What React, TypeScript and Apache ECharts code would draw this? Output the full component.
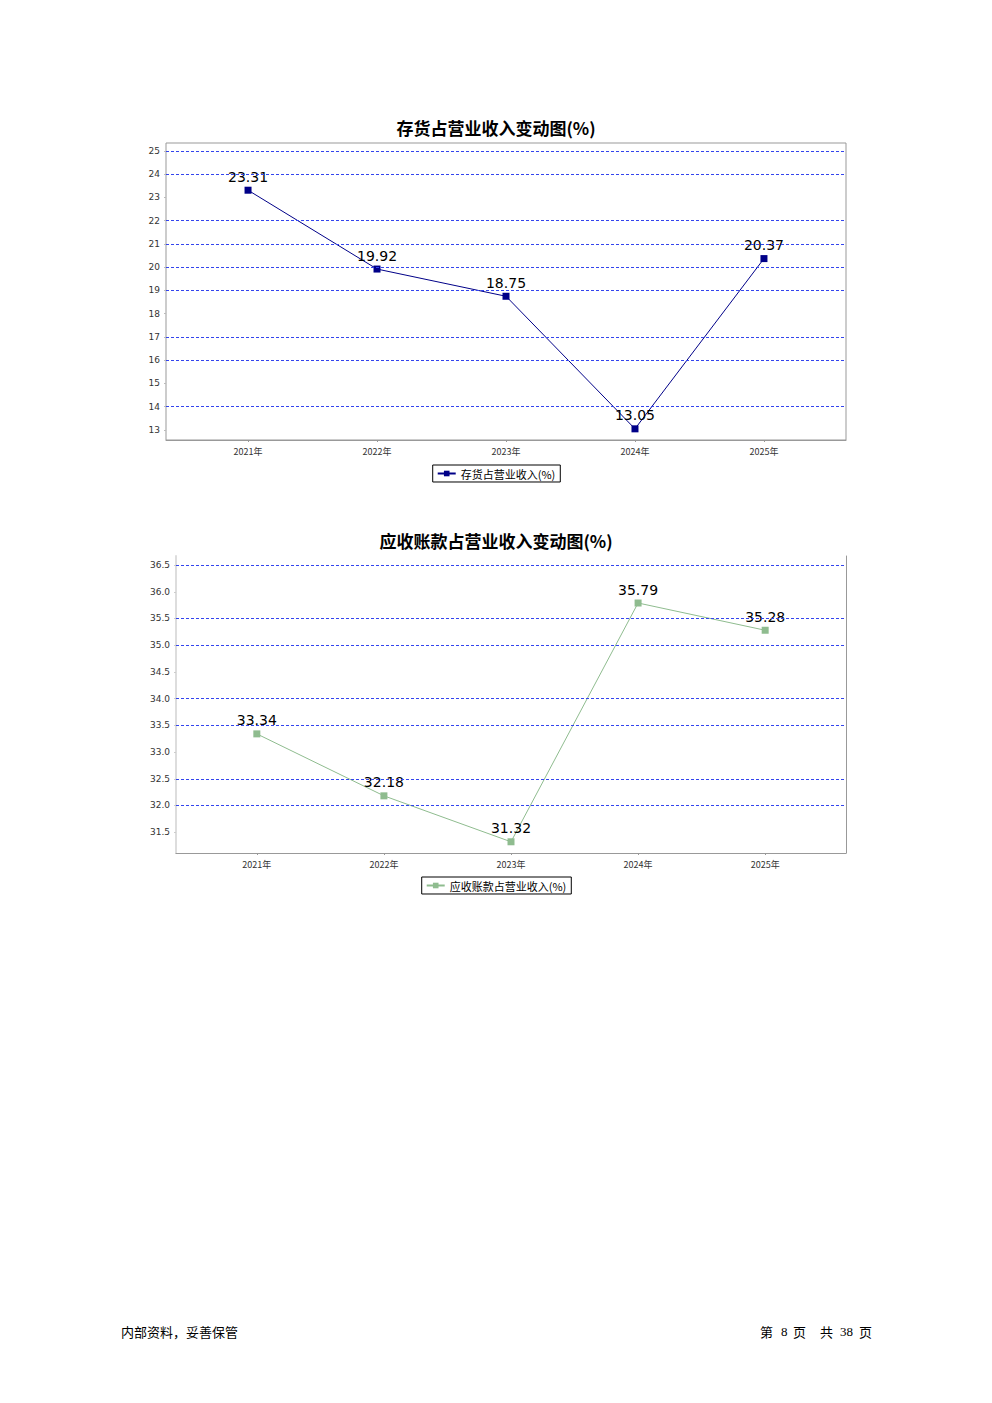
import React, { useEffect, useRef } from "react";
import * as echarts from "echarts";

const categories = ["2021年", "2022年", "2023年", "2024年", "2025年"];
const inventoryName = "存货占营业收入(%)";
const inventoryValues = [23.31, 19.92, 18.75, 13.05, 20.37];
const inventoryTicks = [13, 14, 15, 16, 17, 18, 19, 20, 21, 22, 23, 24, 25];
const inventoryGridLines = [25, 24, 22, 21, 20, 19, 17, 16, 14];
const receivableName = "应收账款占营业收入(%)";
const receivableValues = [33.34, 32.18, 31.32, 35.79, 35.28];
const receivableTicks = [31.5, 32.0, 32.5, 33.0, 33.5, 34.0, 34.5, 35.0, 35.5, 36.0, 36.5];
const receivableGridLines = [36.5, 35.5, 35.0, 34.0, 33.5, 32.5, 32.0];
const catIdx = [0, 1, 2, 3, 4];

const CJK = '"Noto Sans CJK SC", "DejaVu Sans", sans-serif';
const SERIF = '"Liberation Serif", "DejaVu Serif", serif';

export default function App() {
  const ref = useRef<HTMLDivElement>(null);
  useEffect(() => {
    document.body.style.margin = "0";
    const chart = echarts.init(ref.current!, null, { renderer: "svg" });
    const xAxisBase = (gridIndex: number) => ({
      type: "value",
      gridIndex,
      min: -0.636,
      max: 4.636,
      axisLine: { show: true, onZero: false, lineStyle: { color: "#999", width: 1 } },
      axisTick: { show: true, customValues: catIdx, length: 2, lineStyle: { color: "#999" } },
      axisLabel: {
        customValues: catIdx,
        formatter: (v: number) => categories[Math.round(v)] ?? "",
        fontSize: 9,
        color: "#333",
        fontFamily: CJK,
        margin: 7,
      },
      splitLine: { show: false },
    });
    const gl = (vals: number[]) => ({
      silent: true,
      symbol: ["none", "none"],
      label: { show: false },
      lineStyle: { color: "#3344ee", type: [3, 2], width: 1 },
      data: vals.map((v) => ({ yAxis: v })),
    });
    const legendBase = {
      left: "center",
      borderColor: "#000",
      borderWidth: 1,
      padding: [3, 5, 3, 4],
      itemWidth: 18,
      itemHeight: 7,
      itemGap: 4,
      textStyle: { fontSize: 11, color: "#000", fontFamily: CJK },
    };
    const footerStyle = (text: string, font: string) => ({ text, font, fill: "#000" });
    chart.setOption({
      animation: false,
      backgroundColor: "#fff",
      title: [
        {
          text: "存货占营业收入变动图(%)",
          left: "center",
          top: 114,
          textStyle: { fontSize: 17, fontWeight: "bold", color: "#000", fontFamily: CJK },
        },
        {
          text: "应收账款占营业收入变动图(%)",
          left: "center",
          top: 527,
          textStyle: { fontSize: 17, fontWeight: "bold", color: "#000", fontFamily: CJK },
        },
      ],
      legend: [
        { ...legendBase, data: [inventoryName], top: 465 },
        { ...legendBase, data: [receivableName], top: 877 },
      ],
      grid: [
        { left: 166, top: 143, width: 680, height: 297, show: true, borderColor: "#999", borderWidth: 1 },
        { left: 176, top: 556, width: 670, height: 297, show: false },
      ],
      xAxis: [xAxisBase(0), xAxisBase(1)],
      yAxis: [
        {
          type: "value",
          gridIndex: 0,
          min: 12.57,
          max: 25.34,
          axisLine: { show: false, onZero: false },
          axisTick: { show: true, customValues: inventoryTicks, length: 2, lineStyle: { color: "#bbb" } },
          axisLabel: {
            customValues: inventoryTicks,
            fontSize: 9,
            color: "#333",
            fontFamily: "DejaVu Sans",
            margin: 6,
          },
          splitLine: { show: false },
        },
        {
          type: "value",
          gridIndex: 1,
          min: 31.11,
          max: 36.67,
          axisLine: { show: true, onZero: false, lineStyle: { color: "#ddd", width: 2 } },
          axisTick: { show: true, customValues: receivableTicks, length: 2, lineStyle: { color: "#ccc" } },
          axisLabel: {
            customValues: receivableTicks,
            formatter: (v: number) => v.toFixed(1),
            fontSize: 9,
            color: "#333",
            fontFamily: "DejaVu Sans",
            margin: 6,
          },
          splitLine: { show: false },
        },
        {
          type: "value",
          gridIndex: 1,
          position: "right",
          min: 31.11,
          max: 36.67,
          axisLine: { show: true, onZero: false, lineStyle: { color: "#999", width: 1 } },
          axisTick: { show: false },
          axisLabel: { show: false },
          splitLine: { show: false },
        },
      ],
      series: [
        {
          name: inventoryName,
          type: "line",
          xAxisIndex: 0,
          yAxisIndex: 0,
          data: inventoryValues.map((v, i) => [i, v]),
          symbol: "rect",
          symbolSize: 7,
          itemStyle: { color: "#000088" },
          lineStyle: { color: "#000088", width: 1 },
          label: {
            show: true,
            position: "top",
            distance: 3,
            fontSize: 14,
            color: "#000",
            fontFamily: "DejaVu Sans",
            formatter: (p: any) => p.value[1].toFixed(2),
          },
          markLine: gl(inventoryGridLines),
          z: 3,
        },
        {
          name: receivableName,
          type: "line",
          xAxisIndex: 1,
          yAxisIndex: 1,
          data: receivableValues.map((v, i) => [i, v]),
          symbol: "rect",
          symbolSize: 7,
          itemStyle: { color: "#8fbc8f" },
          lineStyle: { color: "#8fbc8f", width: 1 },
          label: {
            show: true,
            position: "top",
            distance: 3,
            fontSize: 14,
            color: "#000",
            fontFamily: "DejaVu Sans",
            formatter: (p: any) => p.value[1].toFixed(2),
          },
          markLine: gl(receivableGridLines),
          z: 3,
        },
      ],
      graphic: [
        { type: "text", left: 121, top: 1325, style: footerStyle("内部资料，妥善保管", `13px ${CJK}`) },
        { type: "text", left: 760, top: 1325, style: footerStyle("第", `13px ${CJK}`) },
        { type: "text", left: 781, top: 1325, style: footerStyle("8", `13px ${SERIF}`) },
        { type: "text", left: 793, top: 1325, style: footerStyle("页", `13px ${CJK}`) },
        { type: "text", left: 820, top: 1325, style: footerStyle("共", `13px ${CJK}`) },
        { type: "text", left: 840, top: 1325, style: footerStyle("38", `13px ${SERIF}`) },
        { type: "text", left: 859, top: 1325, style: footerStyle("页", `13px ${CJK}`) },
      ],
    });
    return () => chart.dispose();
  }, []);
  return <div ref={ref} style={{ width: 992, height: 1403 }} />;
}
